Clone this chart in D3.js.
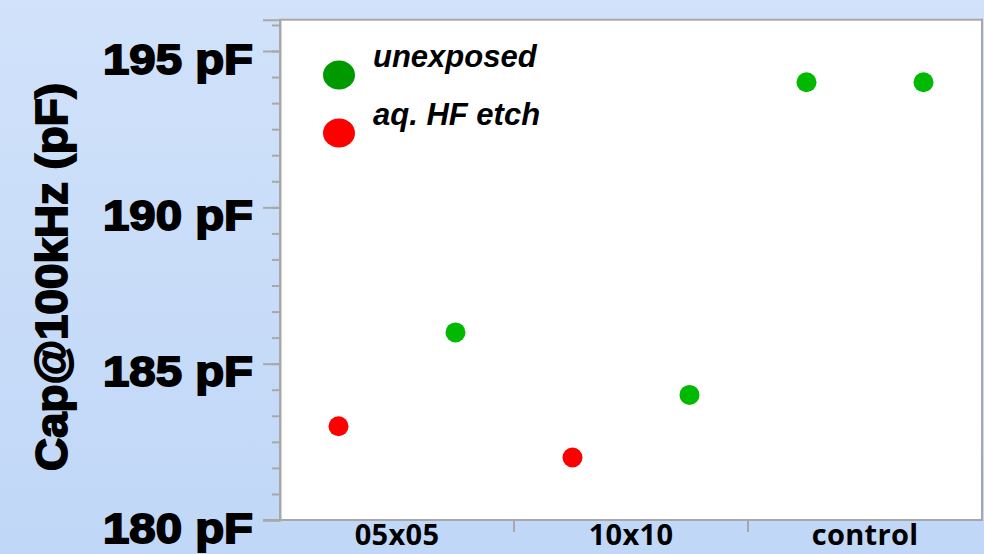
<!DOCTYPE html>
<html>
<head>
<meta charset="utf-8">
<script src="https://cdn.jsdelivr.net/npm/d3@7"></script>
<style>
  html, body { margin: 0; padding: 0; }
  body { width: 984px; height: 554px; overflow: hidden; }
</style>
</head>
<body>
<svg id="chart" width="984" height="554"></svg>
<script>
// ---- data ----
const categories = ["05x05", "10x10", "control"];
const slots = ["left", "right"];
const leftSeries = ["aq. HF etch", "aq. HF etch", "unexposed"];
const leftValues = [183, 182, 194];
const rightSeries = ["unexposed", "unexposed", "unexposed"];
const rightValues = [186, 184, 194];
const seriesNames = ["unexposed", "aq. HF etch"];
const yTicks = [180, 185, 190, 195];
const yTickLabels = ["180 pF", "185 pF", "190 pF", "195 pF"];
const yDomain = [180, 196];
const yTitle = "Cap@100kHz (pF)";

// ---- layout ----
const W = 984, H = 554;
const plot = { left: 280, right: 982, top: 0, bottom: 520 };
const svg = d3.select("#chart");

const defs = svg.append("defs");
const grad = defs.append("linearGradient").attr("id", "bg").attr("x1", 0).attr("y1", 0).attr("x2", 0).attr("y2", 1);
grad.append("stop").attr("offset", "0%").attr("stop-color", "#d1e2fa");
grad.append("stop").attr("offset", "100%").attr("stop-color", "#c0d7f7");
svg.append("rect").attr("width", W).attr("height", H).attr("fill", "url(#bg)");

const y = d3.scaleLinear().domain(yDomain).range([plot.bottom, 51 - (plot.bottom - 51) / 15]);
plot.top = y(yDomain[1]);
const x = d3.scaleBand().domain(categories).range([plot.left, plot.right]).padding(0);
const xs = d3.scaleBand().domain(slots).range([0, x.bandwidth()]).padding(0);

const seriesColor = { "unexposed": "#00b900", "aq. HF etch": "#ff0000" };
const legendColor = { "unexposed": "#009a00", "aq. HF etch": "#ff0000" };

// plot area
svg.append("rect")
  .attr("x", plot.left).attr("y", plot.top)
  .attr("width", plot.right - plot.left).attr("height", plot.bottom - plot.top)
  .attr("fill", "#ffffff").attr("stroke", "#a8a8a8").attr("stroke-width", 2);

// y axis minor ticks
const minorVals = d3.range(0, 20).map(k => yDomain[0] + k * 5 / 6);
const yMinor = d3.axisLeft(y).tickValues(minorVals).tickSize(8).tickFormat("");
const gMinor = svg.append("g").attr("transform", `translate(${plot.left},0)`).call(yMinor);
gMinor.select(".domain").remove();
gMinor.selectAll("line").attr("stroke", "#a8a8a8").attr("stroke-width", 2);

// y axis major ticks
const yAxis = d3.axisLeft(y).tickValues(yTicks).tickSize(17).tickPadding(10)
  .tickFormat((d, i) => yTickLabels[i]);
const gY = svg.append("g").attr("transform", `translate(${plot.left},0)`).call(yAxis);
gY.select(".domain").attr("stroke", "#a8a8a8").attr("stroke-width", 2);
gY.selectAll("line").attr("stroke", "#a8a8a8").attr("stroke-width", 2);
gY.selectAll("text")
  .attr("font-family", "Liberation Sans, Arial, sans-serif")
  .attr("font-weight", "bold")
  .attr("font-size", 42)
  .attr("fill", "#000")
  .attr("stroke", "#000").attr("stroke-width", 1.8)
  .attr("dy", 0)
  .attr("y", 22)
  .attr("textLength", 150)
  .attr("lengthAdjust", "spacingAndGlyphs");

// x axis
const xAxis = d3.axisBottom(x).tickSize(0).tickPadding(0).tickFormat(d => d);
const gX = svg.append("g").attr("transform", `translate(0,${plot.bottom})`).call(xAxis);
gX.select(".domain").remove();
gX.selectAll("text")
  .attr("font-family", "Open Sans, sans-serif")
  .attr("font-weight", "bold")
  .attr("font-size", 29)
  .attr("letter-spacing", 0.3)
  .attr("fill", "#000")
  .attr("dy", 0).attr("y", 25);
// category separators
svg.append("g").selectAll("line")
  .data(categories.slice(1))
  .join("line")
  .attr("x1", d => x(d)).attr("x2", d => x(d))
  .attr("y1", plot.bottom).attr("y2", plot.bottom + 12)
  .attr("stroke", "#a8a8a8").attr("stroke-width", 2);
// bottom line extension to left
svg.append("line")
  .attr("x1", plot.left - 17).attr("x2", plot.right)
  .attr("y1", plot.bottom).attr("y2", plot.bottom)
  .attr("stroke", "#a8a8a8").attr("stroke-width", 2);

// y title
svg.append("text")
  .attr("transform", `translate(67,${(82 + 472) / 2}) rotate(-90)`)
  .attr("text-anchor", "middle")
  .attr("font-family", "Liberation Sans, Arial, sans-serif")
  .attr("font-weight", "bold")
  .attr("font-size", 44)
  .attr("stroke", "#000").attr("stroke-width", 1.8)
  .attr("fill", "#000")
  .attr("textLength", 388)
  .attr("lengthAdjust", "spacingAndGlyphs")
  .text(yTitle);

// points
const points = [];
categories.forEach((c, i) => {
  points.push({ cat: c, slot: "left", series: leftSeries[i], value: leftValues[i] });
  points.push({ cat: c, slot: "right", series: rightSeries[i], value: rightValues[i] });
});
svg.append("g").selectAll("circle")
  .data(points.filter(p => p.value != null))
  .join("circle")
  .attr("cx", d => x(d.cat) + xs(d.slot) + xs.bandwidth() / 2)
  .attr("cy", d => y(d.value))
  .attr("r", 10)
  .attr("fill", d => seriesColor[d.series]);

// legend
const legend = svg.append("g");
const lg = legend.selectAll("g").data(seriesNames).join("g")
  .attr("transform", (d, i) => `translate(339,${75 + i * 58})`);
lg.append("ellipse").attr("rx", 16).attr("ry", 14.5).attr("fill", d => legendColor[d]);
lg.append("text")
  .attr("x", 34).attr("y", -8)
  .attr("font-family", "Liberation Sans, Arial, sans-serif")
  .attr("font-weight", "bold")
  .attr("font-style", "italic")
  .attr("font-size", 31)
  .attr("fill", "#000")
  .text(d => d);
</script>
</body>
</html>
